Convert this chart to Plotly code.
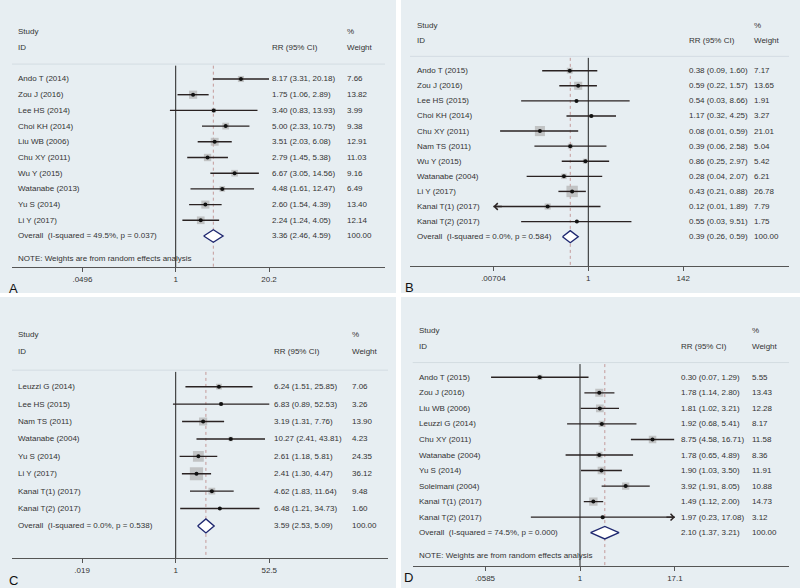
import math
import plotly.graph_objects as go

# ---- data ----
a_names = ["Ando T (2014)", "Zou J (2016)", "Lee HS (2014)", "Choi KH (2014)", "Liu WB (2006)",
           "Chu XY (2011)", "Wu Y (2015)", "Watanabe (2013)", "Yu S (2014)", "Li Y (2017)"]
a_rr = [8.17, 1.75, 3.40, 5.00, 3.51, 2.79, 6.67, 4.48, 2.60, 2.24]
a_lo = [3.31, 1.06, 0.83, 2.33, 2.03, 1.45, 3.05, 1.61, 1.54, 1.24]
a_hi = [20.18, 2.89, 13.93, 10.75, 6.08, 5.38, 14.56, 12.47, 4.39, 4.05]
a_w = [7.66, 13.82, 3.99, 9.38, 12.91, 11.03, 9.16, 6.49, 13.40, 12.14]
a_arrow = [""] * 10
a_overall = (3.36, 2.46, 4.59)
a_label = "Overall&nbsp; (I-squared = 49.5%, p = 0.037)"
a_ticks = [0.0496, 1, 20.2]
a_ticktext = [".0496", "1", "20.2"]

b_names = ["Ando T (2015)", "Zou J (2016)", "Lee HS (2015)", "Choi KH (2014)", "Chu XY (2011)",
           "Nam TS (2011)", "Wu Y (2015)", "Watanabe (2004)", "Li Y (2017)", "Kanai T(1) (2017)",
           "Kanai T(2) (2017)"]
b_rr = [0.38, 0.59, 0.54, 1.17, 0.08, 0.39, 0.86, 0.28, 0.43, 0.12, 0.55]
b_lo = [0.09, 0.22, 0.03, 0.32, 0.01, 0.06, 0.25, 0.04, 0.21, 0.01, 0.03]
b_hi = [1.60, 1.57, 8.66, 4.25, 0.59, 2.58, 2.97, 2.07, 0.88, 1.89, 9.51]
b_w = [7.17, 13.65, 1.91, 3.27, 21.01, 5.04, 5.42, 6.21, 26.78, 7.79, 1.75]
b_arrow = ["", "", "", "", "", "", "", "", "", "l", ""]
b_overall = (0.39, 0.26, 0.59)
b_label = "Overall&nbsp; (I-squared = 0.0%, p = 0.584)"
b_ticks = [0.00704, 1, 142]
b_ticktext = [".00704", "1", "142"]

c_names = ["Leuzzi G (2014)", "Lee HS (2015)", "Nam TS (2011)", "Watanabe (2004)", "Yu S (2014)",
           "Li Y (2017)", "Kanai T(1) (2017)", "Kanai T(2) (2017)"]
c_rr = [6.24, 6.83, 3.19, 10.27, 2.61, 2.41, 4.62, 6.48]
c_lo = [1.51, 0.89, 1.31, 2.41, 1.18, 1.30, 1.83, 1.21]
c_hi = [25.85, 52.53, 7.76, 43.81, 5.81, 4.47, 11.64, 34.73]
c_w = [7.06, 3.26, 13.90, 4.23, 24.35, 36.12, 9.48, 1.60]
c_arrow = [""] * 8
c_overall = (3.59, 2.53, 5.09)
c_label = "Overall&nbsp; (I-squared = 0.0%, p = 0.538)"
c_ticks = [0.019, 1, 52.5]
c_ticktext = [".019", "1", "52.5"]

d_names = ["Ando T (2015)", "Zou J (2016)", "Liu WB (2006)", "Leuzzi G (2014)", "Chu XY (2011)",
           "Watanabe (2004)", "Yu S (2014)", "Soleimani (2004)", "Kanai T(1) (2017)", "Kanai T(2) (2017)"]
d_rr = [0.30, 1.78, 1.81, 1.92, 8.75, 1.78, 1.90, 3.92, 1.49, 1.97]
d_lo = [0.07, 1.14, 1.02, 0.68, 4.58, 0.65, 1.03, 1.91, 1.12, 0.23]
d_hi = [1.29, 2.80, 3.21, 5.41, 16.71, 4.89, 3.50, 8.05, 2.00, 17.08]
d_w = [5.55, 13.43, 12.28, 8.17, 11.58, 8.36, 11.91, 10.88, 14.73, 3.12]
d_arrow = ["", "", "", "", "", "", "", "", "", "r"]
d_overall = (2.10, 1.37, 3.21)
d_label = "Overall&nbsp; (I-squared = 74.5%, p = 0.000)"
d_ticks = [0.0585, 1, 17.1]
d_ticktext = [".0585", "1", "17.1"]

note_text = "NOTE: Weights are from random effects analysis"

W, H = 800, 588
BG = "#e7eef2"
TXT = "#333333"
CI_COL = "#2a2222"
FONT = "Liberation Sans, Arial, sans-serif"

# layout of each panel in pixels
panels = [
    dict(letter="A", names=a_names, rr=a_rr, lo=a_lo, hi=a_hi, w=a_w, arrow=a_arrow, overall=a_overall,
         label=a_label, note=True, ticks=a_ticks, ticktext=a_ticktext,
         outer=(0, 396, 0, 293), box=(12, 385, 15, 267), null_px=175.7, ppd=71.5,
         row0=79, step=15.7, cols=(16, 270, 345), letter_xy=(13, 288)),
    dict(letter="B", names=b_names, rr=b_rr, lo=b_lo, hi=b_hi, w=b_w, arrow=b_arrow, overall=b_overall,
         label=b_label, note=False, ticks=b_ticks, ticktext=b_ticktext,
         outer=(401, 800, 0, 293), box=(410, 789, 10, 266), null_px=588.3, ppd=44.1,
         row0=70.7, step=15.09, cols=(415, 687, 752), letter_xy=(410, 287)),
    dict(letter="C", names=c_names, rr=c_rr, lo=c_lo, hi=c_hi, w=c_w, arrow=c_arrow, overall=c_overall,
         label=c_label, note=False, ticks=c_ticks, ticktext=c_ticktext,
         outer=(0, 396, 297, 588), box=(12, 388, 316.7, 558.3), null_px=175.7, ppd=54.4,
         row0=386.7, step=17.41, cols=(16, 272, 350), letter_xy=(13, 580)),
    dict(letter="D", names=d_names, rr=d_rr, lo=d_lo, hi=d_hi, w=d_w, arrow=d_arrow, overall=d_overall,
         label=d_label, note=True, ticks=d_ticks, ticktext=d_ticktext,
         outer=(401, 800, 297, 588), box=(412.7, 789, 312.7, 566), null_px=580, ppd=77.0,
         row0=377.3, step=15.54, cols=(417, 679, 750), letter_xy=(408, 577)),
]

fig = go.Figure()
shapes = []
annotations = []
layout_axes = {}


def txt(x, y, yref, s, size=8, anchor="left"):
    annotations.append(dict(x=x / W, y=y, xref="paper", yref=yref, text=s, showarrow=False,
                            xanchor=anchor, yanchor="middle",
                            font=dict(size=size, color=TXT, family=FONT)))


for i, p in enumerate(panels):
    sfx = "" if i == 0 else str(i + 1)
    xref, yref = "x" + sfx, "y" + sfx
    x0, x1, y0, y1 = p["box"]
    n = len(p["names"])
    rows = list(range(n))
    y_bot = (y1 - p["row0"]) / p["step"]
    y_top = (y0 - p["row0"]) / p["step"]

    layout_axes["xaxis" + sfx] = dict(
        domain=[x0 / W, x1 / W], type="log", anchor=yref,
        range=[(x0 - p["null_px"]) / p["ppd"], (x1 - p["null_px"]) / p["ppd"]],
        tickvals=p["ticks"], ticktext=p["ticktext"], ticks="outside", ticklen=4,
        tickcolor="#555", showline=True, linecolor="#555", linewidth=1,
        showgrid=False, zeroline=False, tickfont=dict(size=8, color=TXT, family=FONT))
    layout_axes["yaxis" + sfx] = dict(domain=[1 - y1 / H, 1 - y0 / H], range=[y_bot, y_top],
                                      anchor=xref, visible=False)

    # graph region background
    ox0, ox1, oy0, oy1 = p["outer"]
    shapes.append(dict(type="rect", xref="paper", yref="paper", x0=ox0 / W, x1=ox1 / W,
                       y0=1 - oy1 / H, y1=1 - oy0 / H, fillcolor=BG, line=dict(width=0), layer="below"))
    # header separator
    shapes.append(dict(type="line", xref="paper", yref=yref, x0=x0 / W, x1=x1 / W, y0=-0.95, y1=-0.95,
                       line=dict(color="#d3dce2", width=1)))

    est, olo, ohi = p["overall"]
    # null line and overall dashed line
    fig.add_trace(go.Scatter(x=[1, 1], y=[-0.85, y_bot], mode="lines", xaxis=xref, yaxis=yref,
                             line=dict(color="#222", width=1), hoverinfo="skip"))
    fig.add_trace(go.Scatter(x=[est, est], y=[-0.85, y_bot], mode="lines", xaxis=xref, yaxis=yref,
                             line=dict(color="#c49a9a", width=1, dash="dot"), hoverinfo="skip"))

    # weight boxes
    fig.add_trace(go.Scatter(x=p["rr"], y=rows, mode="markers", xaxis=xref, yaxis=yref,
                             marker=dict(symbol="square", color="#b0b0b0",
                                         size=[2.2 * math.sqrt(w) for w in p["w"]], line=dict(width=0)),
                             hoverinfo="skip"))
    # confidence intervals (clipped at outer ticks when arrowed)
    cx, cy = [], []
    for r, lo, hi, ar in zip(rows, p["lo"], p["hi"], p["arrow"]):
        lo_c = p["ticks"][0] if ar == "l" else lo
        hi_c = p["ticks"][-1] if ar == "r" else hi
        cx += [lo_c, hi_c, None]
        cy += [r, r, None]
        if ar:
            tip = lo_c if ar == "l" else hi_c
            annotations.append(dict(x=math.log10(tip), y=r, xref=xref, yref=yref, text="",
                                    showarrow=True, ax=10 if ar == "l" else -10, ay=0,
                                    arrowhead=4, arrowsize=1.0, arrowwidth=1.3, arrowcolor=CI_COL))
    fig.add_trace(go.Scatter(x=cx, y=cy, mode="lines", xaxis=xref, yaxis=yref,
                             line=dict(color=CI_COL, width=1.4), hoverinfo="skip"))
    fig.add_trace(go.Scatter(x=p["rr"], y=rows, mode="markers", xaxis=xref, yaxis=yref,
                             marker=dict(symbol="circle", color="#111", size=4), hoverinfo="skip"))
    # pooled diamond
    fig.add_trace(go.Scatter(x=[olo, est, ohi, est, olo], y=[n, n - 0.4, n, n + 0.4, n], mode="lines",
                             xaxis=xref, yaxis=yref, line=dict(color="#1f2870", width=1.4),
                             fill="toself", fillcolor="white", hoverinfo="skip"))

    # text columns
    c0, c1, c2 = p["cols"]
    txt(c0, -3, yref, "Study")
    txt(c0, -2, yref, "ID")
    txt(c1, -2, yref, "RR (95% CI)")
    txt(c2, -3, yref, "%")
    txt(c2, -2, yref, "Weight")
    for r, name, rr, lo, hi, w in zip(rows, p["names"], p["rr"], p["lo"], p["hi"], p["w"]):
        txt(c0, r, yref, name)
        txt(c1, r, yref, f"{rr:.2f} ({lo:.2f}, {hi:.2f})")
        txt(c2, r, yref, f"{w:.2f}")
    txt(c0, n, yref, p["label"])
    txt(c1, n, yref, f"{est:.2f} ({olo:.2f}, {ohi:.2f})")
    txt(c2, n, yref, "100.00")
    if p["note"]:
        txt(c0, n + 1.45, yref, note_text)

    lx, ly = p["letter_xy"]
    annotations.append(dict(x=lx / W, y=1 - ly / H, xref="paper", yref="paper", text=p["letter"],
                            showarrow=False, xanchor="center", yanchor="middle",
                            font=dict(size=13, color="#111", family=FONT)))

fig.update_layout(
    width=W, height=H, margin=dict(t=0, b=0, l=0, r=0),
    paper_bgcolor="white", plot_bgcolor="white", showlegend=False,
    shapes=shapes, annotations=annotations, font=dict(family=FONT),
    **layout_axes,
)

# drop the browser's default 8px body margin so the figure sits at the page origin
fig.write_html("out.html", config={"displayModeBar": False},
               post_script="document.body.style.margin='0';")
